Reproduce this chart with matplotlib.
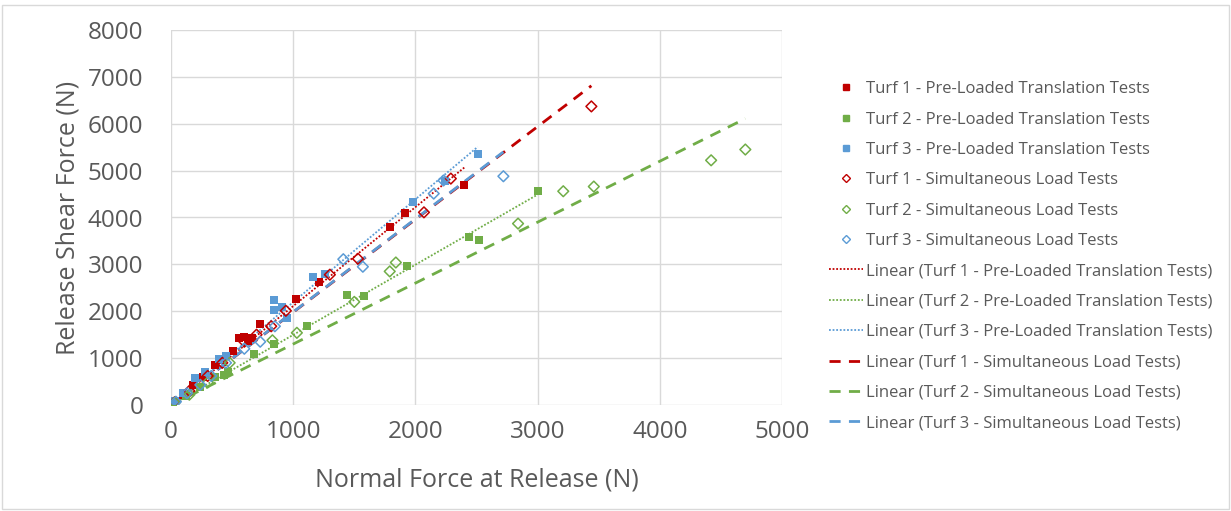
import numpy as np
import matplotlib
matplotlib.use("Agg")
import matplotlib.pyplot as plt
from matplotlib.lines import Line2D
from matplotlib.patches import Rectangle

plt.rcParams['font.family'] = ['Open Sans', 'DejaVu Sans']

# ---- data ----
t1_pre_x = [20, 100, 180, 260, 360, 400, 510, 560, 600, 630, 660, 730, 1025, 1213, 1795, 1918, 2400]
t1_pre_y = [80, 220, 430, 600, 860, 950, 1160, 1420, 1450, 1370, 1430, 1720, 2260, 2630, 3800, 4100, 4700]

t2_pre_x = [20, 120, 240, 360, 430, 470, 680, 840, 1110, 1440, 1580, 1930, 2440, 2520, 3000]
t2_pre_y = [40, 200, 390, 600, 640, 700, 1090, 1310, 1690, 2350, 2330, 2970, 3590, 3530, 4560]

t3_pre_x = [30, 100, 200, 280, 390, 450, 840, 840, 910, 950, 1160, 1260, 1980, 2240, 2510]
t3_pre_y = [80, 250, 580, 700, 980, 1050, 2230, 2030, 2100, 1860, 2740, 2800, 4320, 4770, 5350]

t1_sim_x = [30, 150, 300, 420, 600, 700, 820, 940, 1300, 1530, 2070, 2290, 3440]
t1_sim_y = [60, 300, 620, 900, 1350, 1500, 1680, 2010, 2780, 3120, 4110, 4830, 6370]

t2_sim_x = [30, 150, 300, 480, 830, 1030, 1500, 1790, 1840, 2840, 3210, 3460, 4420, 4700]
t2_sim_y = [50, 220, 480, 900, 1380, 1540, 2200, 2850, 3040, 3870, 4560, 4660, 5220, 5450]

t3_sim_x = [40, 130, 240, 330, 450, 600, 730, 850, 1410, 1570, 2150, 2230, 2720]
t3_sim_y = [70, 250, 430, 620, 900, 1200, 1350, 1680, 3110, 2950, 4510, 4790, 4880]

labels_pre = ["Turf 1 - Pre-Loaded Translation Tests",
              "Turf 2 - Pre-Loaded Translation Tests",
              "Turf 3 - Pre-Loaded Translation Tests"]
labels_sim = ["Turf 1 - Simultaneous Load Tests",
              "Turf 2 - Simultaneous Load Tests",
              "Turf 3 - Simultaneous Load Tests"]

colors = ["#C00000", "#70AD47", "#5B9BD5"]
text_color = "#595959"

fig = plt.figure(figsize=(12.31, 5.11), dpi=100)
ax = fig.add_axes([171/1231, 1 - 405/511, (782-171)/1231, (405-30)/511])

# figure border
fig.patches.append(Rectangle((0.002, 0.004), 0.996, 0.986, transform=fig.transFigure,
                             fill=False, edgecolor="#D9D9D9", linewidth=1.0))

pre = [(t1_pre_x, t1_pre_y), (t2_pre_x, t2_pre_y), (t3_pre_x, t3_pre_y)]
sim = [(t1_sim_x, t1_sim_y), (t2_sim_x, t2_sim_y), (t3_sim_x, t3_sim_y)]


def slope_through_origin(x, y):
    x = np.asarray(x, float)
    y = np.asarray(y, float)
    return np.sum(x * y) / np.sum(x * x)


handles = []
for (x, y), c, lab in zip(pre, colors, labels_pre):
    ax.scatter(x, y, marker="s", s=26, color=c, zorder=3, linewidths=0)
    handles.append(Line2D([], [], marker="s", ls="none", color=c, markersize=4.5, label=lab))
for (x, y), c, lab in zip(sim, colors, labels_sim):
    ax.scatter(x, y, marker="D", s=30, facecolors="none", edgecolors=c, linewidths=1.1, zorder=3)
    handles.append(Line2D([], [], marker="D", ls="none", markerfacecolor="none",
                          markeredgecolor=c, markersize=4.5, markeredgewidth=1.0, label=lab))

for (x, y), c, lab in zip(pre, colors, labels_pre):
    m = slope_through_origin(x, y)
    xs = np.array([0, max(x)])
    ax.plot(xs, m * xs, ls=(0, (1, 1)), color=c, lw=1.3, zorder=2)
    handles.append(Line2D([], [], ls=(0, (1, 1)), color=c, lw=1.3, label="Linear (" + lab + ")"))
for (x, y), c, lab in zip(sim, colors, labels_sim):
    m = slope_through_origin(x, y)
    xs = np.array([0, max(x)])
    ax.plot(xs, m * xs, ls=(0, (4, 3)), color=c, lw=2.0, zorder=2)
    handles.append(Line2D([], [], ls=(0, (4, 3)), color=c, lw=2.0, label="Linear (" + lab + ")"))

ax.set_xlim(0, 5000)
ax.set_ylim(0, 8000)
ax.set_xticks(np.arange(0, 5001, 1000))
ax.set_yticks(np.arange(0, 8001, 1000))
ax.grid(True, color="#D9D9D9", lw=1.0)
ax.set_axisbelow(True)
for s in ax.spines.values():
    s.set_visible(False)
ax.tick_params(axis="both", length=0, labelsize=17.5, labelcolor=text_color)
ax.tick_params(axis="y", pad=20)
ax.tick_params(axis="x", pad=11)
ax.set_xlabel("Normal Force at Release (N)", fontsize=18, color=text_color)
ax.set_ylabel("Release Shear Force (N)", fontsize=18, color=text_color)
ax.xaxis.set_label_coords(0.5, (405 - 480) / 375)
ax.yaxis.set_label_coords((68 - 171) / 611, 0.5)
ax.xaxis.label.set_verticalalignment("center")
ax.yaxis.label.set_verticalalignment("center")

leg = fig.legend(handles=handles, loc="upper left", bbox_to_anchor=(821/1231, 1 - 73/511),
                 frameon=False, fontsize=12, labelcolor=text_color, handlelength=2.0,
                 handletextpad=0.2, labelspacing=0.86, borderpad=0)

fig.savefig("out.png", dpi=100)
